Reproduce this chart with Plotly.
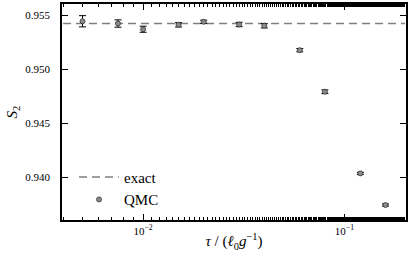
import plotly.graph_objects as go

tau = [0.005, 0.0075, 0.01, 0.015, 0.02, 0.03, 0.04, 0.06, 0.08, 0.12, 0.16]
s2 = [0.95444, 0.95423, 0.95370, 0.95411, 0.95439, 0.95414, 0.95402, 0.95176, 0.94791, 0.94034, 0.93741]
s2_err = [0.00052, 0.00034, 0.00028, 0.00020, 0.00015, 0.00020, 0.00020, 0.00015, 0.00017, 0.00010, 0.00010]
exact_value = 0.95423
exact_x = [0.004, 0.2]
x_tickvals = [0.01, 0.1]
x_ticktext = ["10<sup>−2</sup>", "10<sup>−1</sup>"]
y_tickvals = [0.940, 0.945, 0.950, 0.955]
y_ticktext = ["0.940", "0.945", "0.950", "0.955"]

font_family = "Liberation Serif"

fig = go.Figure()
fig.add_trace(go.Scatter(
    x=exact_x, y=[exact_value] * len(exact_x), mode="lines", name="exact",
    line=dict(color="#7f7f7f", width=1.5, dash="8px,5px"),
))
fig.add_trace(go.Scatter(
    x=tau, y=s2, mode="markers", name="QMC",
    marker=dict(symbol="circle", size=5, color="#8c8c8c", line=dict(color="#333333", width=0.8)),
    error_y=dict(type="data", array=s2_err, visible=True, color="black", thickness=1, width=3.5),
))

fig.update_layout(
    width=415, height=256,
    margin=dict(l=62, r=9, t=4, b=36),
    paper_bgcolor="white", plot_bgcolor="white",
    font=dict(family=font_family, size=11, color="black"),
    showlegend=True,
    legend=dict(x=0.035, y=0.02, xanchor="left", yanchor="bottom",
                bgcolor="rgba(0,0,0,0)", font=dict(size=15), itemwidth=40,
                tracegroupgap=0),
)
fig.update_xaxes(
    type="log", range=[-2.403, -0.694], automargin=False,
    tickvals=x_tickvals, ticktext=x_ticktext,
    ticks="inside", ticklen=6, tickwidth=1, tickcolor="black",
    minor=dict(ticks="inside", ticklen=3, tickwidth=0.8, tickcolor="black", showgrid=False),
    showline=True, linecolor="black", linewidth=1.5, mirror="ticks",
    showgrid=False, zeroline=False,
    tickfont=dict(size=11),
    title=dict(text="<i>τ</i> / (<i>ℓ</i><sub>0</sub><i>g</i><sup>−1</sup>)", font=dict(size=15), standoff=0),
)
fig.update_yaxes(
    range=[0.93602, 0.95604], automargin=False,
    tickvals=y_tickvals, ticktext=y_ticktext,
    ticks="inside", ticklen=6, tickwidth=1, tickcolor="black",
    ticklabelstandoff=8,
    showline=True, linecolor="black", linewidth=1.5, mirror="ticks",
    showgrid=False, zeroline=False,
    tickfont=dict(size=11),
    title=dict(text="<i>S</i><sub>2</sub>", font=dict(size=15), standoff=4),
)

fig.write_html("out.html", config={"displayModeBar": False},
               post_script="document.body.style.margin='0';document.body.style.padding='0';")
